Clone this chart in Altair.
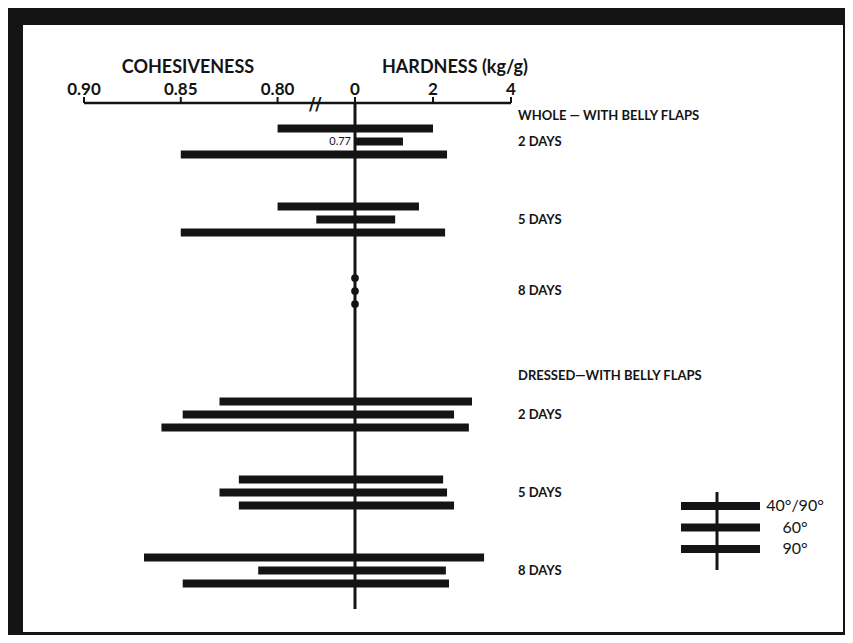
import altair as alt
import pandas as pd

# ---------------- data ----------------
GROUP_LABELS = ["WHOLE — WITH BELLY FLAPS", "DRESSED—WITH BELLY FLAPS"]
DAY_LABELS = ["2 DAYS", "5 DAYS", "8 DAYS"]
ANGLE_LABELS = ["40°/90°", "60°", "90°"]

# order: group -> day -> angle (40/90, 60, 90)
COHESIVENESS = [0.800, 0.770, 0.850,
                0.800, 0.780, 0.850,
                None, None, None,
                0.830, 0.849, 0.860,
                0.820, 0.830, 0.820,
                0.869, 0.810, 0.849]
HARDNESS = [2.00, 1.23, 2.36,
            1.64, 1.03, 2.31,
            None, None, None,
            3.00, 2.54, 2.92,
            2.26, 2.36, 2.54,
            3.31, 2.33, 2.41]

COH_TICKS = [0.90, 0.85, 0.80]
HARD_TICKS = [0, 2, 4]
COH_TITLE = "COHESIVENESS"
HARD_TITLE = "HARDNESS (kg/g)"

INK = "#141414"
FONT = "Lato"

# ---------------- tables ----------------
rows = []
for gi, g in enumerate(GROUP_LABELS):
    for di, d in enumerate(DAY_LABELS):
        for ai, a in enumerate(ANGLE_LABELS):
            k = gi * 9 + di * 3 + ai
            rows.append(dict(row=f"{gi}-{di}-{ai}", group=g, day=d, angle=a,
                             coh=COHESIVENESS[k], hard=HARDNESS[k]))
df = pd.DataFrame(rows)

labels = []
for gi, g in enumerate(GROUP_LABELS):
    labels.append(dict(row=f"H{gi}", text=g))
    for di, d in enumerate(DAY_LABELS):
        labels.append(dict(row=f"{gi}-{di}-1", text=d))
lab_df = pd.DataFrame(labels)

# vertical slot layout (header, gaps, blocks of three bars)
layout = [("H", 0), ("G", 1), ("B", 0, 0), ("G", 7), ("B", 0, 1), ("G", 6),
          ("B", 0, 2), ("G", 10), ("H", 1), ("G", 3), ("B", 1, 0), ("G", 7),
          ("B", 1, 1), ("G", 7), ("B", 1, 2)]
domain = []
for item in layout:
    if item[0] == "H":
        domain.append(f"H{item[1]}")
    elif item[0] == "G":
        for _ in range(item[1]):
            domain.append(f"_{len(domain)}")
    else:
        for ai in range(3):
            if ai:
                domain.append(f"_{len(domain)}")
            domain.append(f"{item[1]}-{item[2]}-{ai}")

STEP = 6.5
Y0 = 87.25
y_scale = alt.Scale(type="band", domain=domain, range=[Y0, Y0 + len(domain) * STEP],
                    paddingInner=0, paddingOuter=0)
Y = alt.Y("row:N", scale=y_scale, axis=None)

coh_scale = alt.Scale(domain=[0.90, 0.76], range=[61, 332], nice=False, zero=False)
hard_scale = alt.Scale(domain=[0, 4], range=[332, 488], nice=False, zero=False)

AXIS_Y = 78
TICK = 6
BAR_H = 8

one = pd.DataFrame({"v": [0]})


def axis_layers(ticks, fmt, title, title_x, lo, hi):
    tdf = pd.DataFrame({"v": ticks})
    line = alt.Chart(one).mark_rule(strokeWidth=2.5, color=INK).encode(
        x=alt.XDatum(lo, axis=None), x2=alt.X2Datum(hi), y=alt.value(AXIS_Y))
    tk = alt.Chart(tdf).mark_rule(strokeWidth=2, color=INK).encode(
        x=alt.X("v:Q", axis=None), y=alt.value(AXIS_Y - TICK), y2=alt.value(AXIS_Y))
    lb = alt.Chart(tdf).mark_text(
        baseline="alphabetic", align="center", fontSize=17, font=FONT,
        fontWeight="bold", color=INK
    ).encode(x=alt.X("v:Q", axis=None), y=alt.value(AXIS_Y - TICK - 2),
             text=alt.Text("v:Q", format=fmt))
    tt = alt.Chart(pd.DataFrame({"t": [title]})).mark_text(
        baseline="middle", align="center", fontSize=18, font=FONT,
        fontWeight="bold", color=INK
    ).encode(x=alt.value(title_x), y=alt.value(AXIS_Y - 35), text="t:N")
    return [line, tk, lb, tt]


# ---------------- cohesiveness side ----------------
left_bars = alt.Chart(df).transform_filter(
    "isValid(datum.coh) && datum.coh >= 0.775"
).mark_bar(height=BAR_H, color=INK).encode(
    x=alt.X("coh:Q", scale=coh_scale, axis=None),
    x2=alt.X2Datum(0.76),
    y=Y,
)

axis_break = alt.Chart(pd.DataFrame({"t": ["//"]})).mark_text(
    fontSize=17, fontWeight="bold", font="DejaVu Sans", color=INK, baseline="middle"
).encode(
    x=alt.XDatum(0.7805, axis=None),
    y=alt.value(AXIS_Y + 2),
    text="t:N",
)

coh_group = alt.layer(
    left_bars, *axis_layers(COH_TICKS, ".2f", COH_TITLE, 165, 0.90, 0.76), axis_break
)

# ---------------- hardness side ----------------
right_bars = alt.Chart(df).transform_filter("isValid(datum.hard)").mark_bar(
    height=BAR_H, color=INK
).encode(
    x=alt.X("hard:Q", scale=hard_scale, axis=None),
    x2=alt.X2Datum(0),
    y=Y,
)

center_line = alt.Chart(one).mark_rule(strokeWidth=3, color=INK).encode(
    x=alt.XDatum(0, axis=None),
    y=alt.value(AXIS_Y),
    y2=alt.value(584),
)

dots = alt.Chart(df).transform_filter("!isValid(datum.hard)").mark_circle(
    size=60, color=INK, opacity=1
).encode(
    x=alt.XDatum(0, axis=None),
    y=Y,
)

off_scale = alt.Chart(df).transform_filter(
    "isValid(datum.coh) && datum.coh < 0.775"
).mark_text(align="right", baseline="middle", dx=-4, fontSize=11, font=FONT,
            color=INK).encode(
    x=alt.XDatum(0, axis=None),
    y=Y,
    text=alt.Text("coh:Q", format=".2f"),
)

row_labels = alt.Chart(lab_df).mark_text(
    align="left", baseline="middle", fontSize=13, font=FONT, fontWeight="bold",
    color=INK
).encode(
    x=alt.value(495),
    y=Y,
    text="text:N",
)

# ---------------- custom key ----------------
key_layers = [
    alt.Chart(one).mark_rule(strokeWidth=3, color=INK).encode(
        x=alt.value(694), y=alt.value(467), y2=alt.value(545))
]
for i, lab in enumerate(ANGLE_LABELS):
    ky = 481 + i * 21.5
    kd = pd.DataFrame({"label": [lab]})
    key_layers.append(alt.Chart(kd).mark_rule(strokeWidth=BAR_H, color=INK).encode(
        x=alt.value(658), x2=alt.value(737), y=alt.value(ky)))
    key_layers.append(alt.Chart(kd).mark_text(
        align="center", baseline="middle", fontSize=16, font=FONT, color=INK
    ).encode(x=alt.value(772), y=alt.value(ky), text="label:N"))

hard_group = alt.layer(
    right_bars, *axis_layers(HARD_TICKS, "d", HARD_TITLE, 432, 0, 4),
    center_line, dots, off_scale, row_labels, *key_layers
)

chart = alt.layer(coh_group, hard_group).resolve_scale(x="independent").properties(
    width=820,
    height=607,
    background=INK,
    padding={"left": 15, "top": 17, "right": 2, "bottom": 3},
    autosize=alt.AutoSizeParams(type="none"),
).configure_view(fill="white", stroke="white", strokeWidth=0)

chart.save("out.html", embed_options={"renderer": "svg", "actions": False})
